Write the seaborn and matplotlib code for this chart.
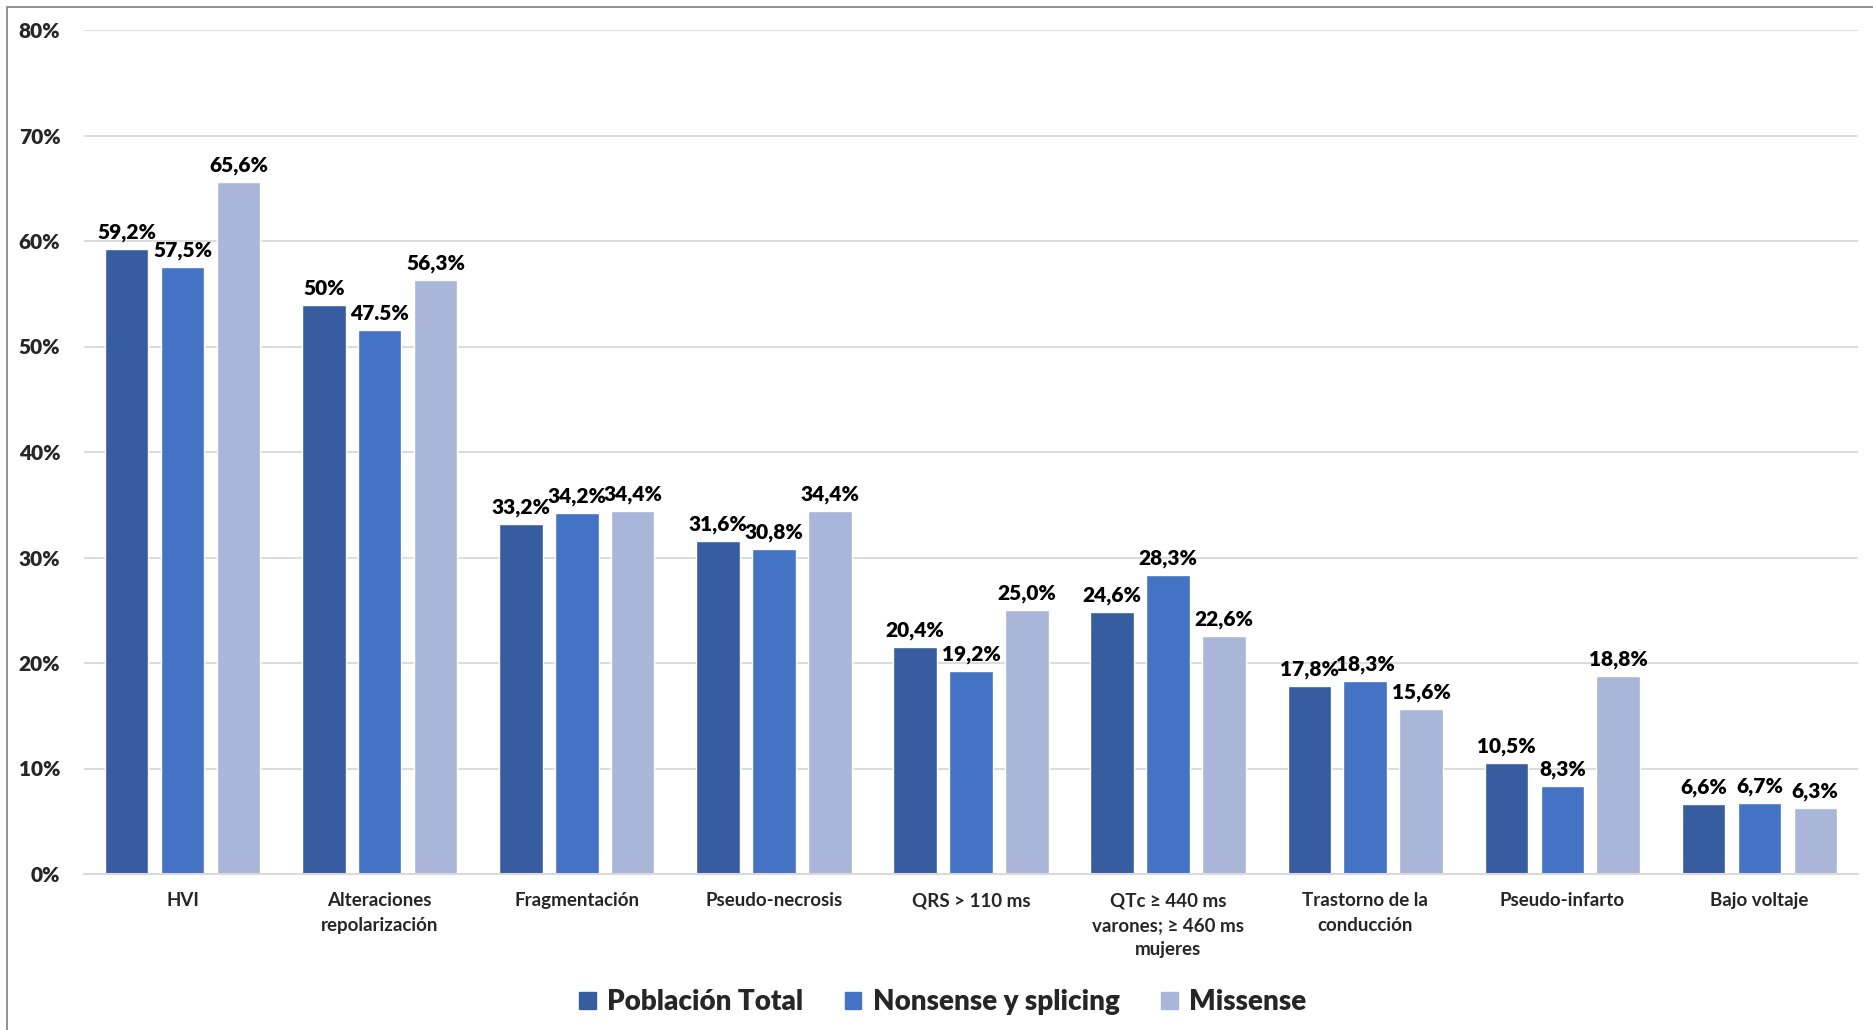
import pandas as pd
import matplotlib.pyplot as plt
import seaborn as sns

categories = ["HVI", "Alteraciones\nrepolarización", "Fragmentación", "Pseudo-necrosis",
              "QRS > 110 ms", "QTc ≥ 440 ms\nvarones; ≥ 460 ms\nmujeres",
              "Trastorno de la\nconducción", "Pseudo-infarto", "Bajo voltaje"]
series = ["Población Total", "Nonsense y splicing", "Missense"]

# bar heights as drawn in the original
total = [59.2, 53.9, 33.2, 31.6, 21.5, 24.8, 17.8, 10.5, 6.6]
nonsense = [57.5, 51.6, 34.2, 30.8, 19.2, 28.3, 18.3, 8.3, 6.7]
missense = [65.6, 56.3, 34.4, 34.4, 25.0, 22.6, 15.6, 18.8, 6.3]

# labels as printed in the original
total_lbl = ["59,2%", "50%", "33,2%", "31,6%", "20,4%", "24,6%", "17,8%", "10,5%", "6,6%"]
nonsense_lbl = ["57,5%", "47.5%", "34,2%", "30,8%", "19,2%", "28,3%", "18,3%", "8,3%", "6,7%"]
missense_lbl = ["65,6%", "56,3%", "34,4%", "34,4%", "25,0%", "22,6%", "15,6%", "18,8%", "6,3%"]

colors = ["#375C9F", "#4472C4", "#A9B6DA"]

rows = []
for s, vals in zip(series, [total, nonsense, missense]):
    for c, v in zip(categories, vals):
        rows.append({"Categoria": c, "Serie": s, "Valor": v})
df = pd.DataFrame(rows)

sns.set_theme(style="white")
plt.rcParams['font.family'] = ['Lato', 'DejaVu Sans']

fig = plt.figure(figsize=(18.74, 10.30), dpi=100)
ax = fig.add_axes([84 / 1874, 1 - 874 / 1030, (1858 - 84) / 1874, (874 - 30) / 1030])

sns.barplot(data=df, x="Categoria", y="Valor", hue="Serie", palette=colors,
            width=0.85, gap=0.22, ax=ax, legend=False, saturation=1)

for cont, lbls in zip(ax.containers, [total_lbl, nonsense_lbl, missense_lbl]):
    ax.bar_label(cont, labels=lbls, padding=5, fontsize=15, fontweight="heavy", color="black")

ax.set_ylim(0, 80)
ax.set_yticks(range(0, 81, 10))
ax.set_yticklabels([f"{t}%" for t in range(0, 81, 10)], fontsize=15, fontweight="heavy")
ax.tick_params(axis="y", length=0, pad=17)
ax.tick_params(axis="x", length=0, pad=13, labelsize=13.5)
for t in ax.get_xticklabels():
    t.set_fontweight("bold")
    t.set_linespacing(1.55)
ax.set_xlabel("")
ax.set_ylabel("")
ax.yaxis.grid(True, color="#D9D9D9", linewidth=1.3)
ax.set_axisbelow(True)
for side in ["top", "right", "left"]:
    ax.spines[side].set_visible(False)
ax.spines["bottom"].set_color("#D9D9D9")
ax.spines["bottom"].set_linewidth(1.5)

handles = [plt.Rectangle((0, 0), 1, 1, color=c) for c in colors]
fig.legend(handles, series, loc="center", bbox_to_anchor=(0.503, 0.027), ncol=3,
           frameon=False, prop={"size": 20, "weight": "heavy"},
           handlelength=0.6, handleheight=0.6, handletextpad=0.4, columnspacing=1.5)

# outer frame
fig.patches.append(plt.Rectangle((7 / 1874, -0.01), 1.1, 1 - 7 / 1030 + 0.01,
                                 transform=fig.transFigure, fill=False,
                                 edgecolor="#7F7F7F", linewidth=1.2))

fig.savefig("out.png", dpi=100)
